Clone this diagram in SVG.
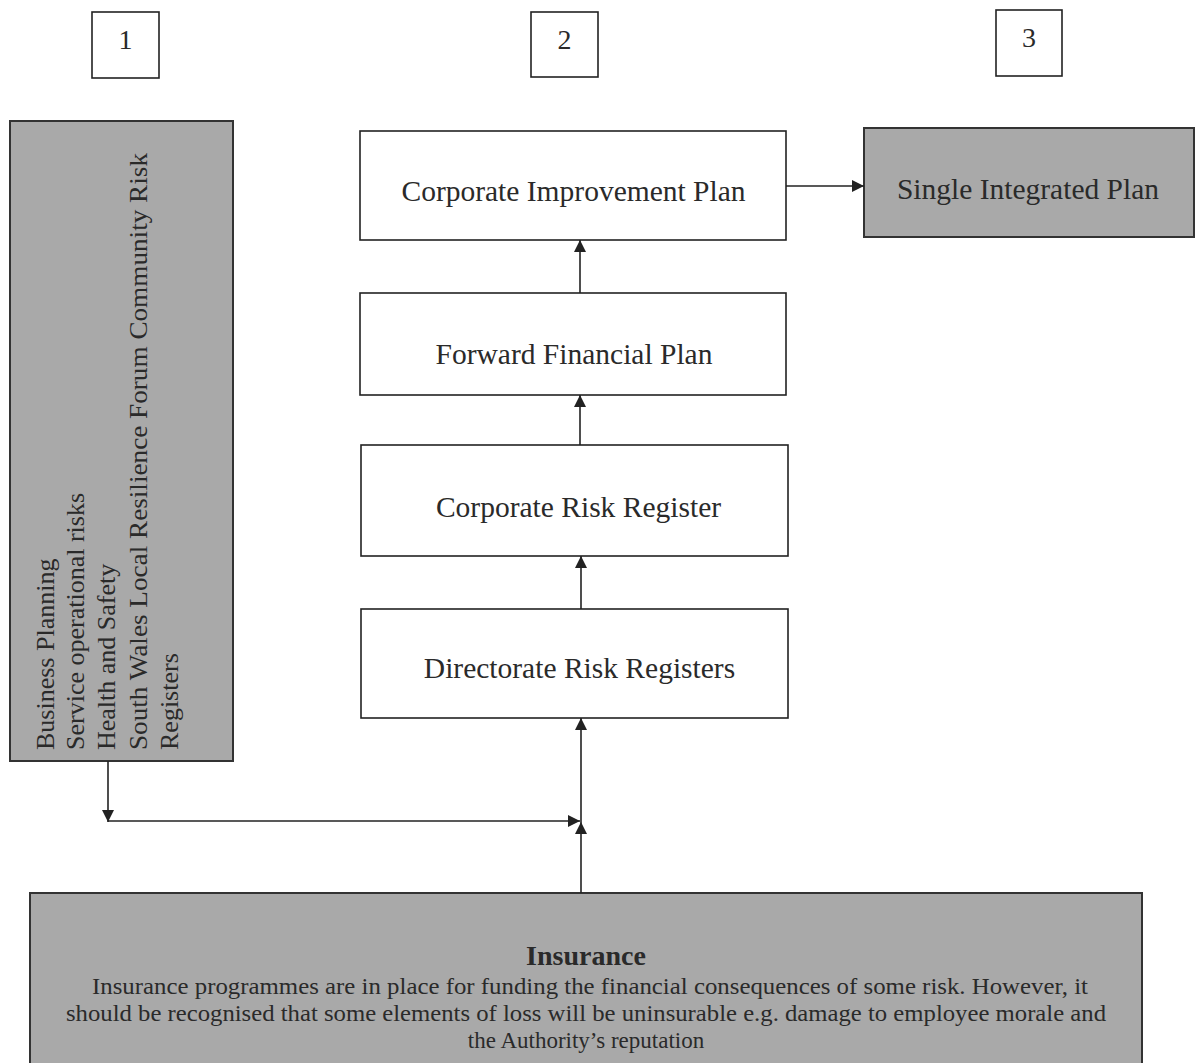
<svg xmlns="http://www.w3.org/2000/svg" width="1200" height="1063" viewBox="0 0 1200 1063">
<style>
.box{fill:#ffffff;stroke:#222;stroke-width:1.6}
.gray{fill:#a9a9a9;stroke:#333;stroke-width:2}
.t{font-family:"Liberation Serif","Times New Roman",serif;fill:#2a2a2a}
.c{text-anchor:middle;font-size:29.5px}
.n{text-anchor:middle;font-size:28px}
.side{font-size:26px}
.ins{text-anchor:middle;font-size:23px}
.con{stroke:#222;stroke-width:1.6;fill:none}
</style>
<defs>
<marker id="ah" viewBox="0 0 10 10" refX="10" refY="5" markerWidth="14" markerHeight="12" markerUnits="userSpaceOnUse" orient="auto">
<path d="M0,0 L10,5 L0,10 z" fill="#222"/>
</marker>
</defs>
<rect width="1200" height="1063" fill="#ffffff"/>
<g id="label1"><rect class="box" x="92" y="12" width="67" height="66"/><text class="t n" x="125.5" y="49">1</text></g>
<g id="label2"><rect class="box" x="531" y="12" width="67" height="65"/><text class="t n" x="564.5" y="49">2</text></g>
<g id="label3"><rect class="box" x="996" y="10" width="66" height="66"/><text class="t n" x="1029" y="47">3</text></g>
<g id="sources">
<rect class="gray" x="10" y="121" width="223" height="640"/>
<g transform="rotate(-90)">
<text class="t side" x="-750" y="54">Business Planning</text>
<text class="t side" x="-750" y="84">Service operational risks</text>
<text class="t side" x="-750" y="115">Health and Safety</text>
<text class="t side" x="-750" y="147" textLength="597" lengthAdjust="spacingAndGlyphs">South Wales Local Resilience Forum Community Risk</text>
<text class="t side" x="-750" y="178">Registers</text>
</g>
</g>
<g id="cip"><rect class="box" x="360" y="131" width="426" height="109"/><text class="t c" x="573.5" y="201">Corporate Improvement Plan</text></g>
<g id="sip"><rect class="gray" x="864" y="128" width="330" height="109"/><text class="t c" x="1028" y="199" font-size="28">Single Integrated Plan</text></g>
<g id="ffp"><rect class="box" x="360" y="293" width="426" height="102"/><text class="t c" x="574" y="364">Forward Financial Plan</text></g>
<g id="crr"><rect class="box" x="361" y="445" width="427" height="111"/><text class="t c" x="578.5" y="517">Corporate Risk Register</text></g>
<g id="drr"><rect class="box" x="361" y="609" width="427" height="109"/><text class="t c" x="579.5" y="678">Directorate Risk Registers</text></g>
<g id="insurance">
<rect class="gray" x="30" y="893" width="1112" height="175"/>
<text class="t" x="586" y="965" text-anchor="middle" font-size="28" font-weight="bold">Insurance</text>
<text class="t ins" x="590" y="994" textLength="996" lengthAdjust="spacingAndGlyphs">Insurance programmes are in place for funding the financial consequences of some risk.  However, it</text>
<text class="t ins" x="586" y="1021" textLength="1040" lengthAdjust="spacingAndGlyphs">should be recognised that some elements of loss will be uninsurable e.g. damage to employee morale and</text>
<text class="t ins" x="586" y="1048">the Authority’s reputation</text>
</g>
<g id="connectors">
<line class="con" x1="786" y1="186" x2="864" y2="186" marker-end="url(#ah)"/>
<line class="con" x1="580" y1="293" x2="580" y2="240" marker-end="url(#ah)"/>
<line class="con" x1="580" y1="445" x2="580" y2="395" marker-end="url(#ah)"/>
<line class="con" x1="581" y1="609" x2="581" y2="556" marker-end="url(#ah)"/>
<line class="con" x1="581" y1="822" x2="581" y2="718" marker-end="url(#ah)"/>
<line class="con" x1="581" y1="893" x2="581" y2="822" marker-end="url(#ah)"/>
<line class="con" x1="108" y1="761" x2="108" y2="822" marker-end="url(#ah)"/>
<line class="con" x1="108" y1="821" x2="580" y2="821" marker-end="url(#ah)"/>
</g>
</svg>
